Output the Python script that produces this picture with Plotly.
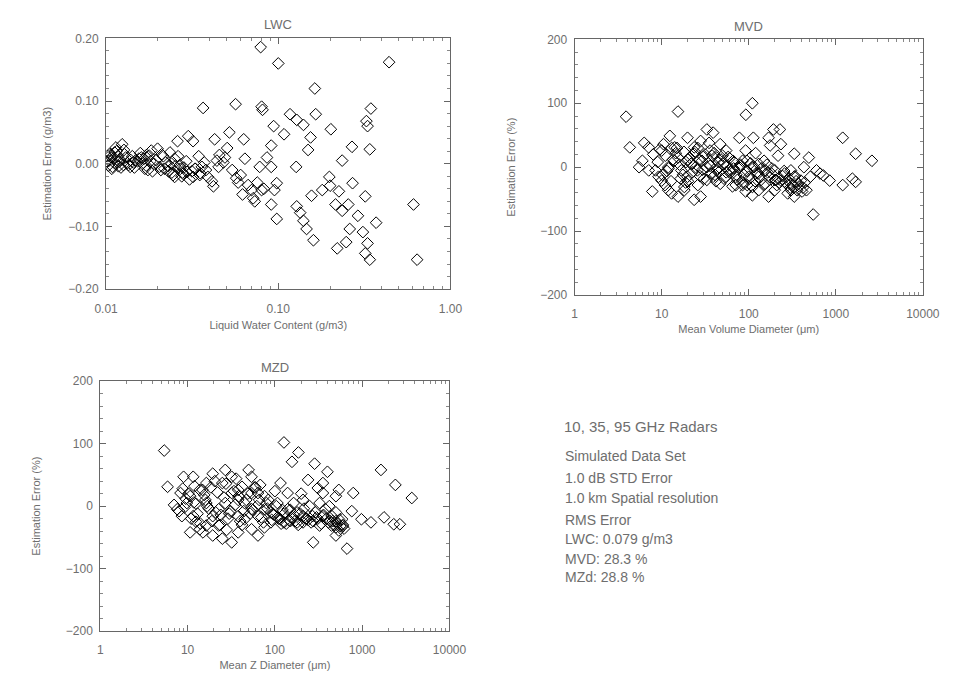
import plotly.graph_objects as go

# ---------------- data ----------------
lwc_x = [0.079, 0.10, 0.44, 0.163, 0.0366, 0.0565, 0.080, 0.081, 0.117, 0.128,
         0.140, 0.165, 0.202, 0.345, 0.33, 0.325, 0.094, 0.108, 0.154, 0.149,
         0.0427, 0.052, 0.063, 0.091, 0.268, 0.34, 0.235, 0.127, 0.091, 0.198,
         0.20, 0.18, 0.225, 0.27, 0.32, 0.156, 0.215, 0.235, 0.255, 0.29,
         0.37, 0.26, 0.31, 0.248, 0.22, 0.33, 0.32, 0.34, 0.61, 0.64,
         0.128, 0.134, 0.14, 0.146, 0.16, 0.098, 0.091, 0.095, 0.098, 0.08,
         0.073, 0.062, 0.07, 0.057, 0.064, 0.078, 0.049, 0.044, 0.042, 0.038,
         0.035, 0.032, 0.0295, 0.027, 0.030, 0.026, 0.025, 0.024, 0.025, 0.0218,
         0.0204, 0.0183, 0.016, 0.0162, 0.0148, 0.0138, 0.0124, 0.0114, 0.0107, 0.0104,
         0.0109, 0.0119, 0.0130, 0.0175, 0.019, 0.032, 0.036, 0.039, 0.045, 0.054,
         0.0102, 0.0112, 0.0135, 0.0155, 0.021, 0.023, 0.028, 0.033, 0.0345, 0.048,
         0.0101, 0.0103, 0.0106, 0.0108, 0.0111, 0.0115, 0.0118, 0.0121, 0.0126, 0.0128,
         0.0133, 0.0142, 0.0146, 0.0152, 0.0158, 0.0166, 0.0171, 0.0178, 0.0186, 0.0195,
         0.0199, 0.0222, 0.0235, 0.0241, 0.0252, 0.0262, 0.0275, 0.0283, 0.0292, 0.0305,
         0.0315, 0.0328, 0.0352, 0.0372, 0.0412, 0.0455, 0.0505, 0.0585, 0.0605, 0.0668,
         0.0715, 0.0755, 0.0825, 0.0860,
         0.0105, 0.0113, 0.0117, 0.0122, 0.0127, 0.0139, 0.0144, 0.0168, 0.0172, 0.0181,
         0.0208, 0.0215, 0.0229, 0.0245, 0.0268, 0.0278]
lwc_err = [0.186, 0.160, 0.162, 0.120, 0.089, 0.095, 0.091, 0.086, 0.079, 0.070,
           0.062, 0.079, 0.055, 0.088, 0.060, 0.068, 0.060, 0.047, 0.042, 0.022,
           0.039, 0.050, 0.039, 0.029, 0.027, 0.023, 0.005, -0.005, -0.005, -0.021,
           -0.035, -0.042, -0.044, -0.031, -0.052, -0.051, -0.065, -0.075, -0.065, -0.083,
           -0.094, -0.104, -0.109, -0.125, -0.135, -0.127, -0.143, -0.153, -0.065, -0.153,
           -0.068, -0.078, -0.091, -0.104, -0.122, -0.088, -0.065, -0.042, -0.031, -0.042,
           -0.060, -0.049, -0.042, -0.023, 0.008, -0.005, 0.010, 0.005, -0.036, -0.010,
           -0.018, -0.021, -0.013, -0.008, 0.044, 0.036, 0.008, 0.000, -0.021, -0.008,
           -0.005, 0.021, 0.010, 0.000, 0.005, -0.005, 0.031, 0.026, 0.010, 0.005,
           -0.005, 0.003, 0.010, -0.010, 0.000, 0.036, -0.005, -0.021, -0.005, -0.010,
           0.012, 0.018, -0.002, 0.008, 0.015, -0.012, -0.016, -0.008, 0.012, 0.002,
           0.004, -0.003, 0.014, -0.008, 0.009, 0.020, -0.004, 0.006, -0.002, 0.015,
           0.001, 0.012, -0.006, 0.004, 0.017, 0.008, -0.003, 0.013, -0.012, 0.006,
           0.024, 0.002, 0.018, -0.014, -0.004, 0.012, -0.020, -0.006, 0.004, -0.025,
           -0.012, -0.008, -0.015, 0.002, -0.028, 0.014, 0.025, -0.030, -0.018, -0.034,
           -0.055, -0.030, -0.040, 0.010,
           0.016, 0.000, 0.012, -0.006, 0.022, 0.006, 0.002, -0.008, 0.014, 0.004,
           -0.010, 0.012, -0.004, -0.018, -0.002, -0.014]

mvd_x = [3.9, 4.3, 15.4, 92.6, 110, 78, 113, 169, 192, 228,
         234, 217, 333, 490, 1200, 1690, 2600, 550, 430, 660,
         850, 1200, 1550, 1690, 305, 360, 280, 235, 183, 155,
         130, 110, 92, 85, 71, 60, 51, 43, 36, 33,
         39, 28, 23.6, 21.7, 19.8, 18.2, 23.6, 28, 15.4, 13,
         10.9, 9.2, 7.8, 7.1, 6.0, 5.5, 6.3, 7.1, 10, 10.5,
         12.4, 14.1, 15.4, 11.9, 16.8, 25.7, 30.6, 39, 47, 55,
         66, 85, 110, 130, 155, 199, 258, 305, 397, 510,
         600, 720, 55, 47, 23.6, 19.8, 18.2, 11.9, 10, 8.5,
         110, 199, 169, 305, 333, 71, 43, 33, 29, 38,
         78, 92, 130, 217, 280, 333, 100, 20, 26, 45,
         8, 9, 11, 12, 13.5, 14.5, 16, 17.5, 19, 21,
         22.5, 24.5, 27, 29.5, 31.5, 34.5, 37, 40, 44, 48,
         52, 57, 62, 68, 74, 81, 88, 96, 105, 118,
         125, 140, 148, 162, 175, 200, 210, 245, 265, 290,
         320, 350, 380, 420, 460, 10.2, 12.8, 15, 18.8, 26,
         35, 42, 58, 65, 96, 120, 176,
         9.5, 11.5, 13, 14, 16.5, 18, 20, 22, 24, 27.5,
         30, 33, 36, 41, 45, 50, 55, 60, 67, 72,
         80, 86, 95, 102, 115, 128, 138, 150, 165, 185,
         205, 225, 255, 300, 340, 370, 410, 440]
mvd_err = [79, 31, 87, 82, 100, 46, 46, 46, 59, 59,
           36, 18, 21, 15, 46, 21, 10, -74, 0, -10,
           -21, -28, -18, -23, -26, -36, -41, -21, -10, -26,
           -36, -44, -38, -28, -15, -5, 5, 15, 26, 59,
           54, 41, 21, 5, -15, -36, -51, -46, -46, -41,
           -28, -15, -38, -5, 10, 0, 38, 31, 26, 36,
           49, 31, 15, 0, -5, -5, -18, -15, -26, -15,
           10, 10, 0, 5, -5, -5, -10, -5, -21, -15,
           -5, -13, 26, 36, 31, 46, -31, -36, -21, -5,
           -31, -36, -46, -36, -15, -28, -5, 0, 10, 18,
           0, 26, -15, -18, -28, -46, -15, 12, -28, -8,
           20, 8, 18, -2, 12, 22, 4, -12, 8, 15,
           -8, 0, 12, -4, 20, 6, -10, 22, -2, 12,
           -18, 2, -8, 8, -20, 2, -12, -6, 6, -22,
           -8, -2, -28, 4, -16, -20, -28, -14, -24, -18,
           -28, -22, -30, -32, -36, -12, -22, 30, -24, 30,
           38, -22, 16, -30, -28, 22, 34,
           28, -6, 30, 10, -18, 24, -22, 6, 24, -14,
           16, -20, 2, -12, 8, 18, -8, 14, -2, -12,
           4, -24, 10, -18, 0, -10, -20, 10, -8, -2,
           -20, -24, -6, -32, -14, -26, -38, -24]

mzd_x = [5.4, 5.9, 127, 186, 157, 285, 400, 240, 310, 355,
         540, 790, 1640, 2400, 3700, 670, 275, 500, 760, 980,
         1260, 1780, 2300, 2700, 500, 460, 355, 275, 210, 180,
         150, 127, 107, 90, 76, 64, 54, 45, 38, 50,
         54, 27, 32, 19.4, 16.4, 13.8, 11.6, 10.7, 9.8, 7.6,
         8.6, 10.7, 15, 19.4, 25, 32, 38, 54, 19.4, 22.7,
         27, 32, 38, 64, 76, 116, 140, 164, 210, 250,
         325, 420, 500, 590, 500, 355, 76, 90, 116, 180,
         325, 445, 540, 16.4, 13.8, 22.7, 38, 45, 64, 11.6,
         16.4, 25, 42, 54, 80, 107, 140, 210, 300, 380,
         8.3, 9.0, 12.5, 30, 60, 95, 230, 600,
         7, 8, 9.5, 11, 12.5, 14, 15.5, 17.5, 18.5, 21,
         23.5, 26, 29, 35, 40, 47, 52, 58, 62, 70,
         84, 98, 110, 122, 135, 160, 170, 195, 225, 260,
         290, 340, 390, 430, 480, 520, 560, 620, 8.8, 12,
         16, 20.5, 28, 36, 44, 68, 100, 150, 200,
         9.2, 10.2, 11.8, 13, 14.8, 16.8, 19, 22, 24, 27.5,
         31, 34, 38.5, 42, 49, 56, 66, 74, 82, 92,
         104, 118, 128, 145, 165, 185, 215, 240, 270, 310,
         360, 410, 450, 500, 550, 600]
mzd_err = [89, 31, 102, 86, 71, 68, 55, 42, 29, 21,
           26, 21, 58, 34, 13, -68, -58, -47, -8, -21,
           -26, -18, -29, -29, -34, -24, -16, -24, -16, -10,
           -24, -26, -18, -10, -34, -16, -5, 5, 10, 58,
           47, 58, 47, 52, 37, 26, 47, 16, 5, -5,
           -16, -42, -42, -47, -52, -58, -42, -37, -16, -5,
           5, 21, 26, 21, 16, 37, 21, 5, 10, 0,
           5, 0, -10, -21, 16, 37, -5, -26, -21, -26,
           -31, -31, -39, -31, -37, -31, -16, -21, -47, -16,
           5, 37, 31, 21, 5, 5, -5, -26, -18, -5,
           21, 47, -25, -12, 30, -12, -20, -30,
           2, -8, 12, -20, 4, -28, 18, -4, 30, -10,
           -30, 14, -20, 2, -24, 10, -12, 30, 0, -18,
           10, -14, -20, -6, -28, -18, -24, -12, -20, -26,
           -10, -28, -20, -24, -30, -28, -32, -36, 28, 32,
           10, 40, -38, 44, -8, 34, 24, -6, 20,
           -2, 20, 6, -12, 26, 0, -24, 22, -14, 36,
           -8, 24, 16, -30, 20, -6, 10, -26, -4, -22,
           0, -28, -12, -22, -14, -30, -4, -22, -16, -20,
           -14, -26, -16, -24, -22, -32]

lwc_xticks = [0.01, 0.1, 1.0]
lwc_xticktext = ["0.01", "0.10", "1.00"]
lwc_yticks = [-0.2, -0.1, 0.0, 0.1, 0.2]
lwc_yticktext = ["\u22120.20", "\u22120.10", "0.00", "0.10", "0.20"]
dia_xticks = [1, 10, 100, 1000, 10000]
dia_xticktext = ["1", "10", "100", "1000", "10000"]
pct_yticks = [-200, -100, 0, 100, 200]
pct_yticktext = ["\u2212200", "\u2212100", "0", "100", "200"]

info_lines = ["Simulated Data Set", "1.0 dB STD Error", "1.0 km Spatial resolution",
              "RMS Error", "LWC: 0.079 g/m3", "MVD: 28.3 %", "MZd: 28.8 %"]
info_ypix = [458, 481, 501, 524, 543, 563, 582]

# ---------------- figure ----------------
W, H = 968, 689
FONT = "Liberation Sans"
GRAY = "#6e6e6e"


def dom_x(a, b):
    return [a / W, b / W]


def dom_y(top, bottom):
    return [1 - bottom / H, 1 - top / H]


def log_minor(lo_exp, hi_exp):
    return [m * 10 ** e for e in range(lo_exp, hi_exp) for m in range(2, 10)]


fig = go.Figure()
marker = dict(symbol="diamond-open", size=9, color="black", line=dict(width=1, color="black"))
fig.add_trace(go.Scatter(x=lwc_x, y=lwc_err, mode="markers", marker=marker, xaxis="x", yaxis="y", showlegend=False))
fig.add_trace(go.Scatter(x=mvd_x, y=mvd_err, mode="markers", marker=marker, xaxis="x2", yaxis="y2", showlegend=False))
fig.add_trace(go.Scatter(x=mzd_x, y=mzd_err, mode="markers", marker=marker, xaxis="x3", yaxis="y3", showlegend=False))

common = dict(showline=True, linecolor="#666", linewidth=1, mirror="ticks", ticks="inside",
              ticklen=6, tickcolor="#666", showgrid=False, zeroline=False,
              tickfont=dict(family=FONT, size=12, color=GRAY),
              title_font=dict(family=FONT, size=11, color=GRAY))


def minor_log(lo, hi):
    return dict(ticks="inside", ticklen=3, tickcolor="#888", showgrid=False,
                tickvals=log_minor(lo, hi))


def minor_lin(step):
    return dict(ticks="inside", ticklen=3, tickcolor="#888", showgrid=False, dtick=step)


fig.update_layout(
    width=W, height=H, margin=dict(l=0, r=0, t=0, b=0),
    paper_bgcolor="white", plot_bgcolor="white",
    xaxis=dict(domain=dom_x(97, 452), type="log", range=[-2, 0], anchor="y",
               tickvals=lwc_xticks, ticktext=lwc_xticktext, ticklabelstandoff=8,
               title=dict(text="Liquid Water Content (g/m3)", standoff=6),
               minor=minor_log(-2, 0), **common),
    yaxis=dict(domain=dom_y(32, 288), range=[-0.2, 0.2], anchor="x",
               tickvals=lwc_yticks, ticktext=lwc_yticktext, ticklabelstandoff=4,
               title=dict(text="Estimation Error (g/m3)", standoff=14),
               minor=minor_lin(0.02), **common),
    xaxis2=dict(domain=dom_x(580, 939), type="log", range=[0, 4], anchor="y2",
                tickvals=dia_xticks, ticktext=dia_xticktext, ticklabelstandoff=8,
                title=dict(text="Mean Volume Diameter (\u03bcm)", standoff=4),
                minor=minor_log(0, 4), **common),
    yaxis2=dict(domain=dom_y(33, 294), range=[-200, 200], anchor="x2",
                tickvals=pct_yticks, ticktext=pct_yticktext, ticklabelstandoff=4,
                title=dict(text="Estimation Error (%)", standoff=22),
                minor=minor_lin(20), **common),
    xaxis3=dict(domain=dom_x(91, 451), type="log", range=[0, 4], anchor="y3",
                tickvals=dia_xticks, ticktext=dia_xticktext, ticklabelstandoff=8,
                title=dict(text="Mean Z Diameter (\u03bcm)", standoff=4),
                minor=minor_log(0, 4), **common),
    yaxis3=dict(domain=dom_y(382, 637), range=[-200, 200], anchor="x3",
                tickvals=pct_yticks, ticktext=pct_yticktext, ticklabelstandoff=4,
                title=dict(text="Estimation Error (%)", standoff=22),
                minor=minor_lin(20), **common),
)

# subplot titles
for txt, xa, ypix in [("LWC", "x", 18), ("MVD", "x2", 20), ("MZD", "x3", 368)]:
    fig.add_annotation(text=txt, xref=f"{xa} domain", x=0.5, yref="paper", y=1 - ypix / H,
                       showarrow=False, xanchor="center", yanchor="middle",
                       font=dict(family=FONT, size=13, color=GRAY))

fig.add_annotation(text="10, 35, 95 GHz Radars", xref="paper", yref="paper",
                   x=567 / W, y=1 - 428 / H, xanchor="left", yanchor="middle", showarrow=False,
                   font=dict(family=FONT, size=15, color=GRAY))
for line, yp in zip(info_lines, info_ypix):
    fig.add_annotation(text=line, xref="paper", yref="paper",
                       x=568 / W, y=1 - yp / H, xanchor="left", yanchor="middle", showarrow=False,
                       font=dict(family=FONT, size=14, color=GRAY))

fig.write_html("out.html")
